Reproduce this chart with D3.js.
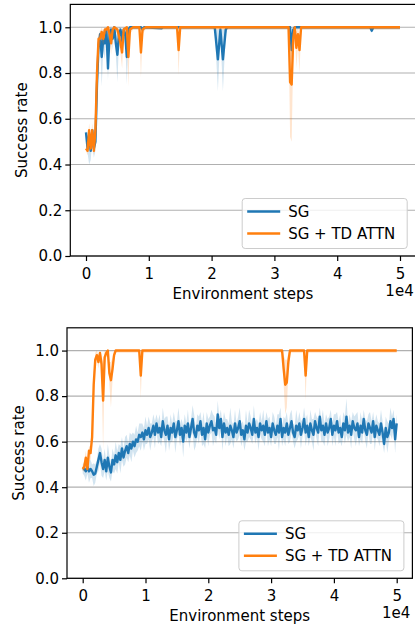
<!DOCTYPE html>
<html>
<head>
<meta charset="utf-8">
<script src="https://cdn.jsdelivr.net/npm/d3@7"></script>
<style>
  body { margin: 0; background: #fff; }
  svg { display: block; font-family: "DejaVu Sans", sans-serif; }
</style>
</head>
<body>
<script>
// two panels: success rate vs environment steps, SG vs SG + TD ATTN

var seriesNames = ["SG", "SG + TD ATTN"]
var colors = ["#1f77b4", "#ff7f0e"]
var xTicks = [0, 10000, 20000, 30000, 40000, 50000]
var yTicks = [0, 0.2, 0.4, 0.6, 0.8, 1.0]

// rows: [step, mean, low, high]
var topSG = [
  [0, .54, .50, .55], [250, .47, .45, .50], [500, .53, .40, .55], [750, .46, .42, .50],
  [1000, .55, .50, .56], [1250, .47, .43, .50], [1500, .50, .46, .55], [1750, .75, .70, .80],
  [2000, .92, .88, .95], [2250, .97, .93, .99], [2500, .87, .74, .95], [2750, .95, .90, .99],
  [3000, .93, .86, .98], [3250, .99, .97, 1], [3500, .82, .77, .90], [3750, .97, .94, 1],
  [4000, .99, .97, 1], [4250, .95, .90, .99], [4500, 1, .99, 1], [4750, .93, .88, .98],
  [5000, .88, .76, .95], [5250, .97, .93, 1], [5500, .99, .97, 1], [5750, .94, .90, .98],
  [6000, .99, .97, 1], [6250, .97, .93, 1], [6500, .87, .75, .95], [6750, .99, .97, 1],
  [7000, 1, .99, 1], [8750, 1, .99, 1], [9000, .99, .98, 1], [9250, 1, .99, 1],
  [12000, .995, .99, 1], [12250, 1, .99, 1], [20500, 1, .99, 1], [21000, .86, .72, .99],
  [21400, .99, .97, 1], [21800, .86, .72, .99], [22250, .99, .97, 1], [22500, 1, .99, 1],
  [32500, 1, .99, 1], [32750, .90, .85, .97], [33000, .99, .97, 1], [33250, 1, .99, 1],
  [45250, 1, .99, 1], [45500, .985, .975, 1], [45750, 1, .99, 1], [50000, 1, .99, 1]
]

var topATTN = [
  [0, .47, .46, .50], [250, .46, .44, .50], [500, .55, .50, .58], [750, .47, .45, .52],
  [1000, .55, .50, .58], [1250, .46, .44, .50], [1500, .55, .50, .58], [1750, .80, .75, .85],
  [2000, .95, .90, .97], [2250, .95, .92, .98], [2500, .98, .95, 1], [2750, .95, .92, .98],
  [3000, .99, .97, 1], [3250, .99, .97, 1], [3500, 1, .99, 1], [3750, .97, .94, 1],
  [4000, .93, .88, .97], [4250, .99, .97, 1], [4500, 1, .99, 1], [5000, .99, .97, 1],
  [5500, .93, .88, .97], [5750, .89, .82, .95], [6000, .99, .97, 1], [6500, 1, .99, 1],
  [6750, .87, .74, .96], [7000, .99, .97, 1], [7500, 1, .99, 1], [8500, 1, .99, 1],
  [8750, .89, .78, .97], [9000, .99, .97, 1], [9500, 1, .99, 1], [14500, 1, .99, 1],
  [14750, .90, .79, .98], [15000, 1, .99, 1], [32250, 1, .99, 1], [32500, .76, .52, .95],
  [32750, .75, .50, .93], [33000, .95, .88, 1], [33250, 1, .99, 1], [33500, .91, .82, .98],
  [33750, .97, .92, 1], [34000, .90, .80, .97], [34250, 1, .99, 1], [50000, 1, .99, 1]
]

var bottomATTN = [
  [0, .48, .47, .49], [250, .49, .47, .52], [500, .53, .49, .56], [750, .48, .47, .50],
  [1000, .56, .52, .58], [1250, .55, .52, .58], [1500, .62, .58, .66], [1750, .85, .80, .90],
  [2000, .96, .93, .99], [2250, .98, .96, 1], [2500, .95, .92, .98], [2750, .99, .97, 1],
  [3000, .94, .90, .98], [3250, .78, .56, .95], [3500, .97, .93, 1], [3750, .99, .97, 1],
  [4000, 1, .99, 1], [4250, .90, .85, .95], [4500, .87, .75, .95], [4750, .92, .87, .97],
  [5000, .98, .96, 1], [5250, 1, .99, 1], [9000, 1, .99, 1], [9250, .89, .79, .97],
  [9500, 1, .99, 1], [31750, 1, .99, 1], [32000, .92, .85, .98], [32250, .85, .72, .96],
  [32500, .86, .75, .96], [32750, .95, .90, .99], [33000, 1, .99, 1], [35250, 1, .99, 1],
  [35500, .89, .78, .97], [35750, 1, .99, 1], [50000, 1, .99, 1]
]

// bottom SG, one value every 250 steps from 0 to 50000
var bottomSGSteps = d3.range(0, 50001, 250)
var bottomSGMean = [
  .48, .48, .47, .49, .47, .48, .47, .455, .46, .49,
  .52, .55, .51, .48, .52, .47, .53, .49, .465, .52,
  .50, .54, .51, .55, .52, .57, .53, .56, .58, .55,
  .59, .57, .60, .58, .61, .60, .63, .62, .64, .61,
  .65, .63, .66, .62, .64, .67, .63, .68, .64,
  .66, .62, .69, .65, .63, .67, .61, .66, .64, .68,
  .62, .65, .69, .63, .66, .60, .67, .64, .68, .62,
  .66, .70, .64, .62, .67, .65, .69, .63, .66, .61,
  .68, .64, .67, .69, .65, .66, .63, .72, .66, .70,
  .62, .68, .64, .66, .63, .67, .65, .62, .68, .64,
  .66, .69, .63, .65, .61, .67, .64, .68, .66, .63,
  .70, .64, .66, .62, .68, .65, .67, .63, .69, .64,
  .66, .62, .68, .65, .63, .67, .64, .70, .62, .66,
  .64, .68, .63, .66, .69, .64, .62, .67, .65, .68,
  .63, .66, .70, .64, .67, .62, .68, .65, .63, .69,
  .66, .64, .71, .65, .67, .63, .68, .64, .66, .70,
  .63, .67, .65, .69, .64, .66, .62, .68, .65, .71,
  .64, .67, .63, .69, .66, .65, .68, .62, .67, .64,
  .70, .65, .63, .68, .66, .64, .69, .62, .67, .65,
  .63, .68, .64, .59, .66, .62, .64, .69, .66, .70,
  .61, .68
]
// half width of the shaded band
var bottomSGSpread = [
  .02, .03, .04, .03, .05, .04, .03, .05, .04, .03,
  .05, .04, .06, .04, .05, .04, .06, .05, .04, .05,
  .04, .06, .05, .04, .06, .05, .04, .06, .05, .04,
  .05, .06, .04, .05, .06, .04, .05, .06, .04, .05,
  .06, .04, .05, .06, .04, .05, .06, .04, .05, .06,
  .04, .06, .05, .08, .04, .05, .06, .04, .05, .07,
  .04, .06, .05, .04, .07, .05, .04, .06, .05, .04,
  .06, .08, .04, .05, .06, .04, .05, .07, .04, .05,
  .06, .04, .05, .07, .05, .04, .06, .05, .04, .06,
  .05, .06, .04, .05, .08, .04, .05, .06, .04, .05,
  .06, .05, .04, .05, .07, .04, .06, .05, .04, .06,
  .05, .04, .06, .05, .04, .07, .05, .04, .06, .05,
  .04, .05, .06, .04, .05, .08, .05, .04, .05, .06,
  .05, .04, .06, .05, .04, .05, .07, .04, .05, .06,
  .04, .05, .06, .05, .04, .06, .05, .07, .04, .05,
  .06, .04, .05, .07, .05, .04, .06, .05, .04, .05,
  .05, .07, .04, .05, .06, .04, .05, .06, .08, .04,
  .05, .06, .04, .05, .07, .05, .04, .06, .05, .04,
  .05, .06, .04, .07, .05, .04, .06, .05, .04, .05,
  .06, .05, .04, .05, .07, .04, .06, .05, .04, .06,
  .04
]

var bottomSG = bottomSGSteps.map(function(s, i) {
  return [s, bottomSGMean[i], bottomSGMean[i] - bottomSGSpread[i], bottomSGMean[i] + bottomSGSpread[i]]
})

var width = 415, height = 629
var svg = d3.select("body").append("svg")
  .attr("width", width)
  .attr("height", height)

var panels = [
  {id: "top", left: 70.3, right: 415.7, top: 4.4, bottom: 256, yLabelX: 22, series: [topSG, topATTN]},
  {id: "bot", left: 67, right: 412.4, top: 327.8, bottom: 578.3, yLabelX: 19, series: [bottomSG, bottomATTN]}
]

panels.forEach(function(p) {
  var xScale = d3.scaleLinear().domain([-2500, 52500]).range([p.left, p.right])
  var yScale = d3.scaleLinear().domain([0, 1.1]).range([p.bottom, p.top])

  svg.append("clipPath").attr("id", "clip-" + p.id)
    .append("rect")
    .attr("x", p.left).attr("y", p.top)
    .attr("width", p.right - p.left).attr("height", p.bottom - p.top)

  // grid
  svg.append("g").selectAll("line")
    .data(yTicks)
    .enter().append("line")
    .attr("x1", p.left).attr("x2", p.right)
    .attr("y1", function(d) { return yScale(d) })
    .attr("y2", function(d) { return yScale(d) })
    .attr("stroke", "#b0b0b0")
    .attr("stroke-width", 1.2)

  var plot = svg.append("g").attr("clip-path", "url(#clip-" + p.id + ")")

  var area = d3.area()
    .x(function(d) { return xScale(d[0]) })
    .y0(function(d) { return yScale(d[2]) })
    .y1(function(d) { return yScale(Math.min(1, d[3])) })
  var line = d3.line()
    .x(function(d) { return xScale(d[0]) })
    .y(function(d) { return yScale(d[1]) })

  p.series.forEach(function(s, i) {
    plot.append("path")
      .attr("d", area(s))
      .attr("fill", colors[i])
      .attr("fill-opacity", 0.2)
    plot.append("path")
      .attr("d", line(s))
      .attr("fill", "none")
      .attr("stroke", colors[i])
      .attr("stroke-width", 2.4)
      .attr("stroke-linejoin", "round")
  })

  // axes
  var xAxis = d3.axisBottom(xScale)
    .tickValues(xTicks)
    .tickFormat(function(d) { return d / 10000 })
    .tickSize(5).tickPadding(7)
  var yAxis = d3.axisLeft(yScale)
    .tickValues(yTicks)
    .tickFormat(d3.format(".1f"))
    .tickSize(5).tickPadding(3)

  var gx = svg.append("g")
    .attr("transform", "translate(0," + p.bottom + ")")
    .call(xAxis)
  var gy = svg.append("g")
    .attr("transform", "translate(" + p.left + ",0)")
    .call(yAxis)
  ;[gx, gy].forEach(function(g) {
    g.select(".domain").remove()
    g.selectAll("line").attr("stroke", "#000").attr("stroke-width", 1.2)
    g.selectAll("text").attr("fill", "#000").style("font-size", "15px")
      .style("font-family", "DejaVu Sans")
  })

  // frame
  svg.append("rect")
    .attr("x", p.left).attr("y", p.top)
    .attr("width", p.right - p.left).attr("height", p.bottom - p.top)
    .attr("fill", "none")
    .attr("stroke", "#000")
    .attr("stroke-width", 1.2)

  svg.append("text")
    .attr("x", (p.left + p.right) / 2)
    .attr("y", p.bottom + 43)
    .attr("text-anchor", "middle")
    .style("font-size", "15px")
    .text("Environment steps")

  svg.append("text")
    .attr("x", p.right - 2)
    .attr("y", p.bottom + 40)
    .attr("text-anchor", "end")
    .style("font-size", "15px")
    .text("1e4")

  svg.append("text")
    .attr("transform", "translate(" + p.yLabelX + "," + ((p.top + p.bottom) / 2) + ") rotate(-90)")
    .attr("dy", "0.35em")
    .attr("text-anchor", "middle")
    .style("font-size", "15px")
    .text("Success rate")

  // legend
  var lw = 165, lh = 50
  var lx = p.right - 8.5 - lw, ly = p.bottom - 7.5 - lh
  var leg = svg.append("g").attr("transform", "translate(" + lx + "," + ly + ")")
  leg.append("rect")
    .attr("width", lw).attr("height", lh)
    .attr("rx", 3)
    .attr("fill", "#fff").attr("fill-opacity", 0.8)
    .attr("stroke", "#cccccc").attr("stroke-width", 1)
  seriesNames.forEach(function(name, i) {
    var cy = 13 + i * 22
    leg.append("line")
      .attr("x1", 5).attr("x2", 38)
      .attr("y1", cy).attr("y2", cy)
      .attr("stroke", colors[i]).attr("stroke-width", 2.4)
    leg.append("text")
      .attr("x", 46).attr("y", cy)
      .attr("dy", "0.35em")
      .style("font-size", "15px")
      .text(name)
  })
})
</script>
</body>
</html>
